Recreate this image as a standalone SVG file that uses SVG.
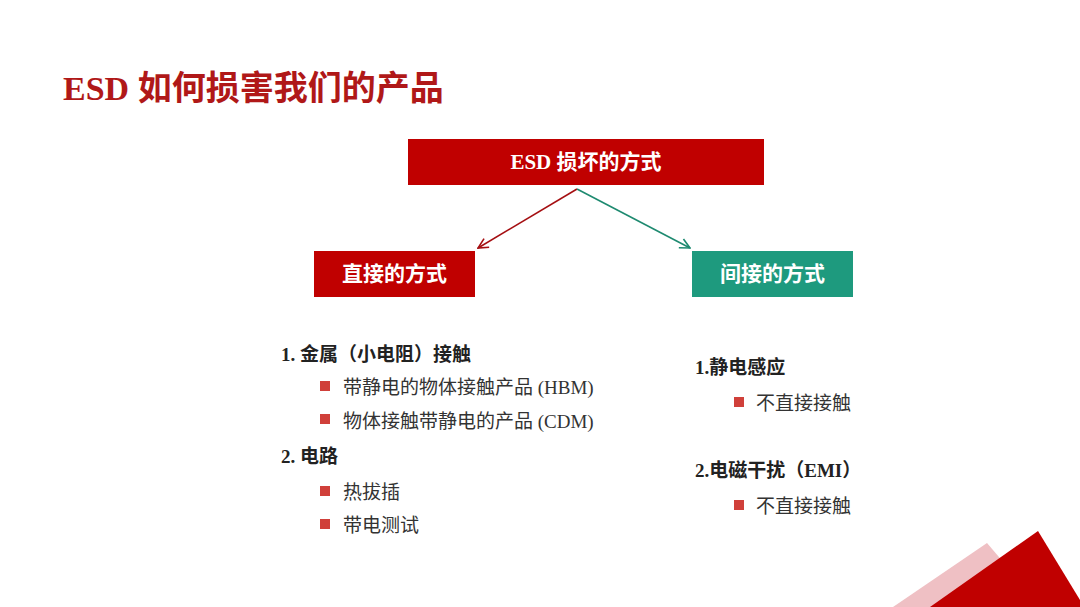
<svg xmlns="http://www.w3.org/2000/svg" width="1080" height="607" viewBox="0 0 1080 607">
<defs>
<style>
.cjk{font-family:"Liberation Serif","Noto Sans CJK SC",serif;}
.title{font-size:34px;font-weight:bold;fill:#B01818;}
.box-t{font-size:21px;font-weight:bold;fill:#fff;}
.h{font-size:19px;font-weight:bold;fill:#222;}
.item{font-size:19px;fill:#333;}
.bul{fill:#D0403A;}
</style>
<marker id="ar" viewBox="0 0 12 12" refX="11" refY="6" markerWidth="12" markerHeight="12" markerUnits="userSpaceOnUse" orient="auto"><path d="M1,1 L11,6 L1,11" fill="none" stroke="#A50F12" stroke-width="1.6"/></marker>
<marker id="ag" viewBox="0 0 12 12" refX="11" refY="6" markerWidth="12" markerHeight="12" markerUnits="userSpaceOnUse" orient="auto"><path d="M1,1 L11,6 L1,11" fill="none" stroke="#1E8A70" stroke-width="1.6"/></marker>
</defs>
<rect width="1080" height="607" fill="#fff"/>
<polygon points="893,607 987,543 1010,570 1010,607" fill="#EFC0C4"/>
<polygon points="930,607 1038,531 1080,600 1080,607" fill="#C00000"/>
<text class="cjk title" x="63" y="100">ESD 如何损害我们的产品</text>
<g id="connectors">
<line x1="577" y1="189" x2="478" y2="248" stroke="#A50F12" stroke-width="1.6" marker-end="url(#ar)"/>
<line x1="577" y1="189" x2="690" y2="248" stroke="#1E8A70" stroke-width="1.6" marker-end="url(#ag)"/>
</g>
<g id="node-top">
<rect x="408" y="139" width="356" height="46" fill="#C00000"/>
<text class="cjk box-t" x="586" y="169" text-anchor="middle">ESD 损坏的方式</text>
</g>
<g id="node-direct">
<rect x="314" y="251" width="161" height="46" fill="#C00000"/>
<text class="cjk box-t" x="394.5" y="281" text-anchor="middle">直接的方式</text>
</g>
<g id="node-indirect">
<rect x="692" y="251" width="161" height="46" fill="#1E9A7E"/>
<text class="cjk box-t" x="772.5" y="281" text-anchor="middle">间接的方式</text>
</g>
<g id="list-direct">
<text class="cjk h" x="281" y="361">1. 金属（小电阻）接触</text>
<rect class="bul" x="320" y="381" width="10" height="10"/>
<text class="cjk item" x="343" y="394">带静电的物体接触产品 (HBM)</text>
<rect class="bul" x="320" y="414" width="10" height="10"/>
<text class="cjk item" x="343" y="428">物体接触带静电的产品 (CDM)</text>
<text class="cjk h" x="281" y="463">2. 电路</text>
<rect class="bul" x="320" y="486" width="10" height="10"/>
<text class="cjk item" x="343" y="499">热拔插</text>
<rect class="bul" x="320" y="519" width="10" height="10"/>
<text class="cjk item" x="343" y="532">带电测试</text>
</g>
<g id="list-indirect">
<text class="cjk h" x="695" y="374">1.静电感应</text>
<rect class="bul" x="734" y="397" width="10" height="10"/>
<text class="cjk item" x="756" y="410">不直接接触</text>
<text class="cjk h" x="695" y="477">2.电磁干扰（EMI）</text>
<rect class="bul" x="734" y="500" width="10" height="10"/>
<text class="cjk item" x="756" y="513">不直接接触</text>
</g>
</svg>
